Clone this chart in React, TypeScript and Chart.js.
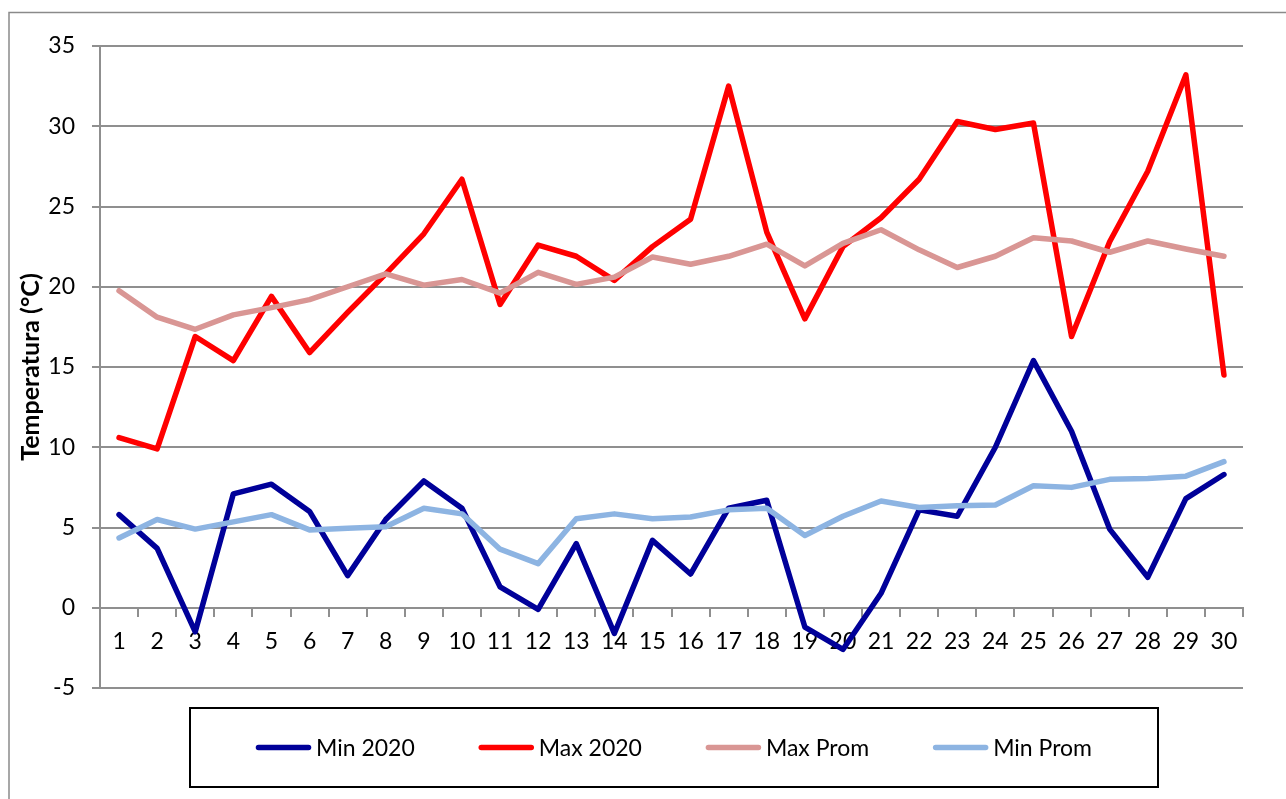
import React, { useEffect, useRef } from "react";
import { Chart, registerables } from "chart.js";

Chart.register(...registerables);

const days = [
  "1", "2", "3", "4", "5", "6", "7", "8", "9", "10",
  "11", "12", "13", "14", "15", "16", "17", "18", "19", "20",
  "21", "22", "23", "24", "25", "26", "27", "28", "29", "30",
];

const min2020 = [
  5.8, 3.7, -1.5, 7.1, 7.7, 6.0, 2.0, 5.5, 7.9, 6.2,
  1.3, -0.1, 4.0, -1.6, 4.2, 2.1, 6.2, 6.7, -1.2, -2.6,
  0.9, 6.1, 5.7, 10.0, 15.4, 11.0, 4.9, 1.9, 6.8, 8.3,
];

const max2020 = [
  10.6, 9.9, 16.9, 15.4, 19.4, 15.9, 18.4, 20.8, 23.3, 26.7,
  18.9, 22.6, 21.9, 20.4, 22.5, 24.2, 32.5, 23.4, 18.0, 22.5,
  24.3, 26.7, 30.3, 29.8, 30.2, 16.9, 22.8, 27.2, 33.2, 14.5,
];

const maxProm = [
  19.75, 18.1, 17.35, 18.25, 18.7, 19.2, 20.0, 20.8, 20.1, 20.45,
  19.6, 20.9, 20.15, 20.6, 21.85, 21.4, 21.9, 22.65, 21.3, 22.7,
  23.55, 22.3, 21.2, 21.9, 23.05, 22.85, 22.15, 22.85, 22.35, 21.9,
];

const minProm = [
  4.35, 5.5, 4.9, 5.35, 5.8, 4.85, 4.95, 5.05, 6.2, 5.85,
  3.65, 2.75, 5.55, 5.85, 5.55, 5.65, 6.1, 6.2, 4.5, 5.7,
  6.65, 6.25, 6.35, 6.4, 7.6, 7.5, 8.0, 8.05, 8.2, 9.1,
];

const seriesNames = ["Min 2020", "Max 2020", "Max Prom", "Min Prom"];
const seriesColors = ["#000099", "#FF0000", "#D99694", "#8DB4E2"];
const yMin = -5;
const yMax = 35;
const yStep = 5;
const yTitle = "Temperatura (°C)";

const FONT = "Lato, 'Open Sans', sans-serif";
const GRID = "#8f8f8f";
const TEXT_SIZE = 23;

const framePlugin = {
  id: "frameAndLegend",
  beforeDraw(chart: any) {
    const ctx = chart.ctx;
    ctx.save();
    ctx.fillStyle = "#ffffff";
    ctx.fillRect(0, 0, chart.width, chart.height);
    ctx.strokeStyle = "#8a8a8a";
    ctx.lineWidth = 1.5;
    ctx.beginPath();
    ctx.moveTo(9, chart.height);
    ctx.lineTo(9, 12.5);
    ctx.lineTo(chart.width, 12.5);
    ctx.stroke();
    ctx.restore();
  },
  afterDraw(chart: any) {
    const ctx = chart.ctx;
    const bx = 190, by = 708, bw = 968, bh = 79;
    ctx.save();
    ctx.strokeStyle = "#000000";
    ctx.lineWidth = 2;
    ctx.strokeRect(bx, by, bw, bh);
    ctx.font = `${TEXT_SIZE}px ${FONT}`;
    const lineLen = 55;
    const gapText = 5;
    const gapItem = 64;
    const widths = seriesNames.map((n) => ctx.measureText(n).width);
    const total =
      widths.reduce((a, w) => a + lineLen + gapText + w, 0) + gapItem * (seriesNames.length - 1);
    let x = bx + bw / 2 - total / 2;
    const cy = by + bh / 2;
    ctx.textBaseline = "middle";
    ctx.textAlign = "left";
    seriesNames.forEach((name, i) => {
      ctx.strokeStyle = seriesColors[i];
      ctx.lineWidth = 5.5;
      ctx.lineCap = "round";
      ctx.beginPath();
      ctx.moveTo(x + 2.5, cy);
      ctx.lineTo(x + lineLen - 2.5, cy);
      ctx.stroke();
      ctx.fillStyle = "#000000";
      ctx.fillText(name, x + lineLen + gapText, cy + 1);
      x += lineLen + gapText + widths[i] + gapItem;
    });
    ctx.restore();
  },
};

export default function App() {
  const ref = useRef<HTMLCanvasElement | null>(null);

  useEffect(() => {
    document.body.style.margin = "0";
    document.body.style.overflow = "hidden";
    if (!ref.current) return;
    const series = [min2020, max2020, maxProm, minProm];
    const chart = new Chart(ref.current, {
      type: "line",
      data: {
        labels: days,
        datasets: series.map((d, i) => ({
          label: seriesNames[i],
          data: d,
          borderColor: seriesColors[i],
          backgroundColor: seriesColors[i],
          borderWidth: 5.5,
          pointRadius: 0,
          pointHoverRadius: 0,
          tension: 0,
          fill: false,
          borderJoinStyle: "round" as const,
          borderCapStyle: "round" as const,
          order: 4 - i,
        })),
      },
      options: {
        responsive: false,
        animation: false,
        devicePixelRatio: 1,
        layout: { padding: { left: 0, right: 43, top: 46, bottom: 111 } },
        plugins: {
          legend: { display: false },
          tooltip: { enabled: false },
          title: { display: false },
        },
        scales: {
          x: {
            type: "category",
            position: { y: 0 } as any,
            offset: true,
            grid: {
              display: true,
              offset: true,
              drawOnChartArea: false,
              drawTicks: true,
              tickLength: 8,
              color: GRID,
              lineWidth: 2,
            },
            border: { display: true, color: GRID, width: 2 },
            ticks: {
              autoSkip: false,
              maxRotation: 0,
              minRotation: 0,
              padding: 12,
              color: "#000000",
              font: { family: FONT, size: TEXT_SIZE },
            },
          },
          y: {
            type: "linear",
            min: yMin,
            max: yMax,
            afterFit(scale: any) {
              scale.width = 100;
            },
            ticks: {
              stepSize: yStep,
              padding: 17,
              color: "#000000",
              font: { family: FONT, size: TEXT_SIZE },
            },
            grid: {
              color: GRID,
              lineWidth: 2,
              drawTicks: true,
              tickLength: 8,
            },
            border: { display: true, color: GRID, width: 2 },
            title: {
              display: true,
              text: yTitle,
              color: "#000000",
              font: { family: FONT, size: 25, weight: "bold" },
              padding: { top: 16, bottom: 0 },
            },
          },
        },
      },
      plugins: [framePlugin],
    });
    return () => chart.destroy();
  }, []);

  return (
    <div style={{ width: 1286, height: 799, overflow: "hidden" }}>
      <canvas ref={ref} width={1286} height={799} style={{ display: "block" }} />
    </div>
  );
}
